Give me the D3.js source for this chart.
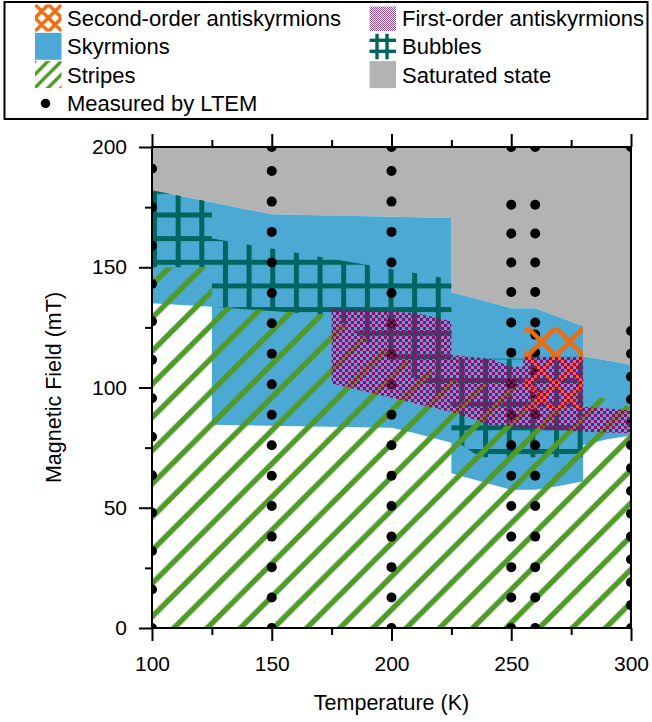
<!DOCTYPE html>
<html><head><meta charset="utf-8">
<script src="https://cdn.jsdelivr.net/npm/d3@7"></script>
<style>
html,body{margin:0;padding:0;background:#fff;}
svg{display:block;font-family:"Liberation Sans",Arial,sans-serif;}
</style></head><body>
<svg id="chart" width="652" height="722"></svg>
<script>
// ---------------- data (Temperature K, Magnetic field mT) ----------------
const saturatedTopEdge = [[100,200],[300,200]];
const skyrmionUpperEdge = [[100,182],[150,172],[225,170.5],[225,139.6],[250,133],[260,133],[280,125.5],[280,113],[300,109.5]];
const skyrmionLowerEdge = [[300,80],[290,78.5],[280,76],[280,61],[270,59],[260,57.5],[250,57.5],[237,61],[225,64.3],[225,77],[210,81],[200,83.3],[125,84.5],[125,133.6],[100,135]];
const stripesRegion = [[100,0],[100,150],[125,150],[125,134],[175,130],[200,114],[225,103],[250,100],[280,98],[300,92],[300,0]];
const bubblesRegion = [[100,182],[125,177],[125,162],[225,145],[225,112],[280,112],[280,71],[237,71],[225,79],[225,93],[175,130],[125,133.6],[125,150],[100,150]];
const firstOrderRegion = [[175,133],[210,131],[225,127.5],[225,113.5],[241,112],[250,108.6],[255,108.6],[255,112.8],[280,112.8],[280,92],[300,90.5],[300,81],[280,81.6],[241,84.4],[227,89.3],[175,101.7]];
const secondOrderRegion = [[255.5,125],[280,125],[280,91],[255.5,91]];

const ltemT100 = [0,16,32,48,63.5,79.5,95.5,111.5,127.5,143,159,175,191];
const ltemT150 = [0,12.7,25.3,38,50.7,63.3,76,88.7,101.3,114,126.7,139.3,152,164.7,177.3,190,200];
const ltemT200 = [0,12.7,25.3,38,50.7,63.3,76,88.7,101.3,114,126.7,139.3,152,164.7,177.3,190,200];
const ltemT250 = [0,12.7,25.3,38,50.7,63.3,76,88.7,101.7,114.5,127,139.7,152,164,176,200];
const ltemT260 = [0,12.7,25.3,38,50.7,63.3,76,89,97.5,106,114.5,122,127,139.7,152,164,176,200];
const ltemT300 = [0,9.5,19,28.5,38,47.5,57,66.5,76,85.5,95,104.5,114,123.5,200];
const ltemTemps = [100,150,200,250,260,300];
const ltemFields = [ltemT100,ltemT150,ltemT200,ltemT250,ltemT260,ltemT300];

const xTicks = [100,150,200,250,300];
const xMinorTicks = [125,175,225,275];
const yTicks = [0,50,100,150,200];
const yMinorTicks = [25,75,125,175];

const legendLabels = ["Second-order antiskyrmions","First-order antiskyrmions","Skyrmions","Bubbles","Stripes","Saturated state","Measured by LTEM"];
const legendKeys = ["second","first","sky","bubbles","stripes","sat","ltem"];

// ---------------- styles ----------------
const C = {gray:"#b3b3b3", blue:"#4ca9d4", teal:"#00655f", green:"#4f9a28", orange:"#ef6c0c", magenta:"#a3006e"};
const FONT = '"Liberation Sans",Arial,sans-serif';

const svg = d3.select("#chart");
const x = d3.scaleLinear().domain([100,300]).range([152,631]);
const y = d3.scaleLinear().domain([0,200]).range([628,147]);
const line = d3.line().x(d=>x(d[0])).y(d=>y(d[1]));
const poly = pts => line(pts) + "Z";

const defs = svg.append("defs");
function diagPattern(id, s, ox, oy, color, w){
  const p = defs.append("pattern").attr("id",id).attr("patternUnits","userSpaceOnUse")
    .attr("width",s).attr("height",s).attr("x",ox).attr("y",oy);
  p.append("path").attr("d",`M0,${s}L${s},0M${-s/2},${s/2}L${s/2},${-s/2}M${s/2},${3*s/2}L${3*s/2},${s/2}`)
    .attr("stroke",color).attr("stroke-width",w).attr("fill","none");
}
function crossPattern(id, s, ox, oy, color, w){
  const p = defs.append("pattern").attr("id",id).attr("patternUnits","userSpaceOnUse")
    .attr("width",s).attr("height",s).attr("x",ox).attr("y",oy);
  p.append("path").attr("d",
    `M0,${s}L${s},0M${-s/2},${s/2}L${s/2},${-s/2}M${s/2},${3*s/2}L${3*s/2},${s/2}`+
    `M0,0L${s},${s}M${s/2},${-s/2}L${3*s/2},${s/2}M${-s/2},${s/2}L${s/2},${3*s/2}`)
    .attr("stroke",color).attr("stroke-width",w).attr("fill","none");
}
function gridPattern(id, s, ox, oy, color, w){
  const p = defs.append("pattern").attr("id",id).attr("patternUnits","userSpaceOnUse")
    .attr("width",s).attr("height",s).attr("x",ox-w/2).attr("y",oy-w/2);
  p.append("rect").attr("x",0).attr("y",0).attr("width",w).attr("height",s).attr("fill",color);
  p.append("rect").attr("x",0).attr("y",0).attr("width",s).attr("height",w).attr("fill",color);
}
function checkerPattern(id, c, color){
  const p = defs.append("pattern").attr("id",id).attr("patternUnits","userSpaceOnUse")
    .attr("width",2*c).attr("height",2*c).attr("x",0).attr("y",0);
  p.append("rect").attr("x",0).attr("y",0).attr("width",c).attr("height",c).attr("fill",color);
  p.append("rect").attr("x",c).attr("y",c).attr("width",c).attr("height",c).attr("fill",color);
}
diagPattern("pStripes", 33.2, 5.2, 0, C.green, 5.5);
crossPattern("pOrange", 28, 9.7, 5.7, C.orange, 4.5);
gridPattern("pGrid", 23.65, 12.6, 2.15, C.teal, 5);
checkerPattern("pChecker", 3, C.magenta);
diagPattern("lStripes", 13.3, 35, 61, C.green, 3.5);
crossPattern("lOrange", 13.4, 35, 4.5, C.orange, 3.5);
checkerPattern("lChecker", 1, "#9c4a88");

defs.append("clipPath").attr("id","plotClip").append("rect")
  .attr("x",152).attr("y",147).attr("width",479).attr("height",481);

// ---------------- regions ----------------
const plot = svg.append("g");
plot.append("path").attr("d", poly(saturatedTopEdge.concat(skyrmionUpperEdge.slice().reverse()))).attr("fill",C.gray);
plot.append("path").attr("d", poly(skyrmionUpperEdge.concat(skyrmionLowerEdge))).attr("fill",C.blue);
plot.append("path").attr("d", poly(bubblesRegion)).attr("fill","url(#pGrid)");
plot.append("path").attr("d", poly(stripesRegion)).attr("fill","url(#pStripes)");

// LTEM points
const pts = [];
ltemTemps.forEach((t,i)=>ltemFields[i].forEach(b=>pts.push([t,b])));
svg.append("g").attr("clip-path","url(#plotClip)").selectAll("circle").data(pts).join("circle")
  .attr("cx",d=>x(d[0])).attr("cy",d=>y(d[1])).attr("r",5).attr("fill","#000");

svg.append("path").attr("d", poly(secondOrderRegion)).attr("fill","url(#pOrange)");
svg.append("path").attr("d", poly(firstOrderRegion)).attr("fill","url(#pChecker)");

// ---------------- axes ----------------
function styleAxis(g){
  g.select(".domain").remove();
  g.selectAll("line").attr("stroke","#000").attr("stroke-width",2);
  g.selectAll("text").attr("font-size",21).attr("fill","#000").attr("font-family",FONT);
}
svg.append("g").attr("transform","translate(0,628)")
  .call(d3.axisBottom(x).tickValues(xTicks).tickSize(13).tickPadding(15).tickSizeOuter(0).tickFormat(d3.format("d"))).call(styleAxis);
svg.append("g").attr("transform","translate(0,628)")
  .call(d3.axisBottom(x).tickValues(xMinorTicks).tickSize(7).tickSizeOuter(0).tickFormat("")).call(styleAxis);
svg.append("g").attr("transform","translate(0,147)")
  .call(d3.axisTop(x).tickValues(xTicks).tickSize(13).tickSizeOuter(0).tickFormat("")).call(styleAxis);
svg.append("g").attr("transform","translate(0,147)")
  .call(d3.axisTop(x).tickValues(xMinorTicks).tickSize(7).tickSizeOuter(0).tickFormat("")).call(styleAxis);
svg.append("g").attr("transform","translate(152,0)")
  .call(d3.axisLeft(y).tickValues(yTicks).tickSize(13).tickPadding(12).tickSizeOuter(0).tickFormat(d3.format("d"))).call(styleAxis);
svg.append("g").attr("transform","translate(152,0)")
  .call(d3.axisLeft(y).tickValues(yMinorTicks).tickSize(7).tickSizeOuter(0).tickFormat("")).call(styleAxis);
svg.append("rect").attr("x",x(100)).attr("y",y(200)).attr("width",x(300)-x(100)).attr("height",y(0)-y(200))
  .attr("fill","none").attr("stroke","#000").attr("stroke-width",2);

svg.append("text").attr("x",(x(100)+x(300))/2).attr("y",710).attr("text-anchor","middle")
  .attr("font-size",21.5).attr("font-family",FONT).text("Temperature (K)");
svg.append("text").attr("transform",`translate(61,${(y(0)+y(200))/2}) rotate(-90)`).attr("text-anchor","middle")
  .attr("font-size",21.5).attr("font-family",FONT).text("Magnetic Field (mT)");

// ---------------- legend ----------------
const lg = svg.append("g");
lg.append("rect").attr("x",4.5).attr("y",2).attr("width",643).attr("height",117)
  .attr("fill","#fff").attr("stroke","#000").attr("stroke-width",2);
const colX = [35, 369.5], textX = [67, 402], rowStep = 28.3, row0 = 4.5, sw = 26.5;
legendKeys.forEach((k,i)=>{
  const col = i%2, row = Math.floor(i/2);
  const sx = colX[col], sy = row0 + row*rowStep;
  if (k==="sky") lg.append("rect").attr("x",sx).attr("y",sy).attr("width",sw).attr("height",sw+0.5).attr("fill",C.blue);
  if (k==="sat") lg.append("rect").attr("x",sx).attr("y",sy).attr("width",sw).attr("height",sw+0.5).attr("fill",C.gray);
  if (k==="second") lg.append("rect").attr("x",sx).attr("y",sy).attr("width",sw).attr("height",sw+0.5).attr("fill","url(#lOrange)");
  if (k==="stripes") lg.append("rect").attr("x",sx).attr("y",sy).attr("width",sw).attr("height",sw+0.5).attr("fill","url(#lStripes)");
  if (k==="first") lg.append("rect").attr("x",sx).attr("y",sy+2).attr("width",sw).attr("height",sw-2).attr("fill","url(#lChecker)");
  if (k==="bubbles"){
    const b = lg.append("g").attr("stroke",C.teal).attr("stroke-width",3.4);
    [7.5,17.5].forEach(o=>b.append("line").attr("x1",sx+o).attr("x2",sx+o).attr("y1",sy+1).attr("y2",sy+sw));
    [7.5,18.5].forEach(o=>b.append("line").attr("x1",sx).attr("x2",sx+sw).attr("y1",sy+o).attr("y2",sy+o));
  }
  if (k==="ltem") lg.append("circle").attr("cx",sx+10.5).attr("cy",sy+14).attr("r",4.7).attr("fill","#000");
  lg.append("text").attr("x",textX[col]).attr("y",sy+21.5).attr("font-size",22).attr("font-family",FONT)
    .attr("fill","#000").text(legendLabels[i]);
});
</script>
</body></html>
